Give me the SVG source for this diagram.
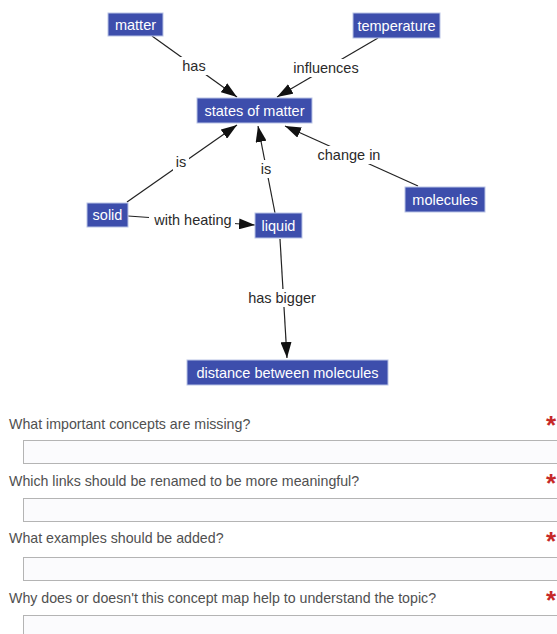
<svg xmlns="http://www.w3.org/2000/svg" width="557" height="634" viewBox="0 0 557 634">
  <defs>
    <marker id="arrow" viewBox="0 0 16 11" refX="16" refY="5.5" markerWidth="16" markerHeight="11" markerUnits="userSpaceOnUse" orient="auto">
      <path d="M0,0 L16,5.5 L0,11 z" fill="#111"/>
    </marker>
    <style>
      .node rect { fill: #3d4eac; stroke: #b9c3e6; stroke-width: 1; }
      .node text { fill: #ffffff; font-family: "Liberation Sans", Arial, sans-serif; font-size: 14.5px; text-anchor: middle; dominant-baseline: central; }
      .edge { stroke: #222; stroke-width: 1.2; fill: none; marker-end: url(#arrow); }
      .lbl-bg { fill: #ffffff; }
      .lbl { fill: #2a2a2a; font-family: "Liberation Sans", Arial, sans-serif; font-size: 14.5px; text-anchor: middle; dominant-baseline: central; }
      .q { fill: #505050; font-family: "Liberation Sans", Arial, sans-serif; font-size: 14.2px; }
      .req { fill: #c62828; font-family: "Liberation Sans", Arial, sans-serif; font-size: 26px; font-weight: bold; text-anchor: middle; }
      .field { fill: #fbfbfd; stroke: #b4b4b4; stroke-width: 1; }
    </style>
  </defs>

  <rect width="557" height="634" fill="#ffffff"/>

  <!-- connectors -->
  <g id="connectors">
    <line class="edge" x1="152" y1="36" x2="237" y2="97"/>
    <line class="edge" x1="378" y1="38" x2="277" y2="97"/>
    <line class="edge" x1="127" y1="202" x2="237" y2="125"/>
    <line class="edge" x1="275" y1="213" x2="258" y2="126"/>
    <line class="edge" x1="418" y1="186" x2="285" y2="126"/>
    <line class="edge" x1="128" y1="216" x2="255" y2="225"/>
    <line class="edge" x1="280" y1="239" x2="287" y2="358"/>

    <!-- link labels -->
    <rect class="lbl-bg" x="180" y="57" width="29" height="18"/>
    <text class="lbl" x="194" y="66">has</text>
    <rect class="lbl-bg" x="290" y="59" width="72" height="18"/>
    <text class="lbl" x="326" y="68">influences</text>
    <rect class="lbl-bg" x="173" y="153" width="16" height="18"/>
    <text class="lbl" x="181" y="162">is</text>
    <rect class="lbl-bg" x="258" y="160" width="16" height="18"/>
    <text class="lbl" x="266" y="169">is</text>
    <rect class="lbl-bg" x="314" y="146" width="70" height="18"/>
    <text class="lbl" x="349" y="155">change in</text>
    <rect class="lbl-bg" x="149" y="211" width="86" height="18"/>
    <text class="lbl" x="193" y="220">with heating</text>
    <rect class="lbl-bg" x="245" y="289" width="74" height="18"/>
    <text class="lbl" x="282" y="298">has bigger</text>
  </g>

  <!-- concept nodes -->
  <g id="matter" class="node">
    <rect x="108" y="13" width="55" height="23"/>
    <text x="135.5" y="24.5">matter</text>
  </g>
  <g id="temperature" class="node">
    <rect x="353" y="13" width="87" height="25"/>
    <text x="396.5" y="25.5">temperature</text>
  </g>
  <g id="states-of-matter" class="node">
    <rect x="197" y="98" width="115" height="25"/>
    <text x="254.5" y="110.5">states of matter</text>
  </g>
  <g id="solid" class="node">
    <rect x="87" y="203" width="41" height="24"/>
    <text x="107.5" y="215">solid</text>
  </g>
  <g id="liquid" class="node">
    <rect x="255" y="213" width="47" height="25"/>
    <text x="278.5" y="225.5">liquid</text>
  </g>
  <g id="molecules" class="node">
    <rect x="405" y="187" width="80" height="25"/>
    <text x="445" y="199.5">molecules</text>
  </g>
  <g id="distance-between-molecules" class="node">
    <rect x="187" y="360" width="201" height="25"/>
    <text x="287.5" y="372.5">distance between molecules</text>
  </g>

  <!-- review questions -->
  <g id="questions">
    <text class="q" x="9" y="429">What important concepts are missing?</text>
    <text class="req" x="551" y="434">*</text>
    <rect class="field" x="23.5" y="440.5" width="545" height="23"/>

    <text class="q" x="9" y="486">Which links should be renamed to be more meaningful?</text>
    <text class="req" x="551" y="492">*</text>
    <rect class="field" x="23.5" y="498.5" width="545" height="23"/>

    <text class="q" x="9" y="543">What examples should be added?</text>
    <text class="req" x="551" y="550">*</text>
    <rect class="field" x="23.5" y="557.5" width="545" height="23"/>

    <text class="q" x="9" y="603">Why does or doesn't this concept map help to understand the topic?</text>
    <text class="req" x="551" y="609">*</text>
    <rect class="field" x="23.5" y="615.5" width="545" height="30"/>
  </g>
</svg>
